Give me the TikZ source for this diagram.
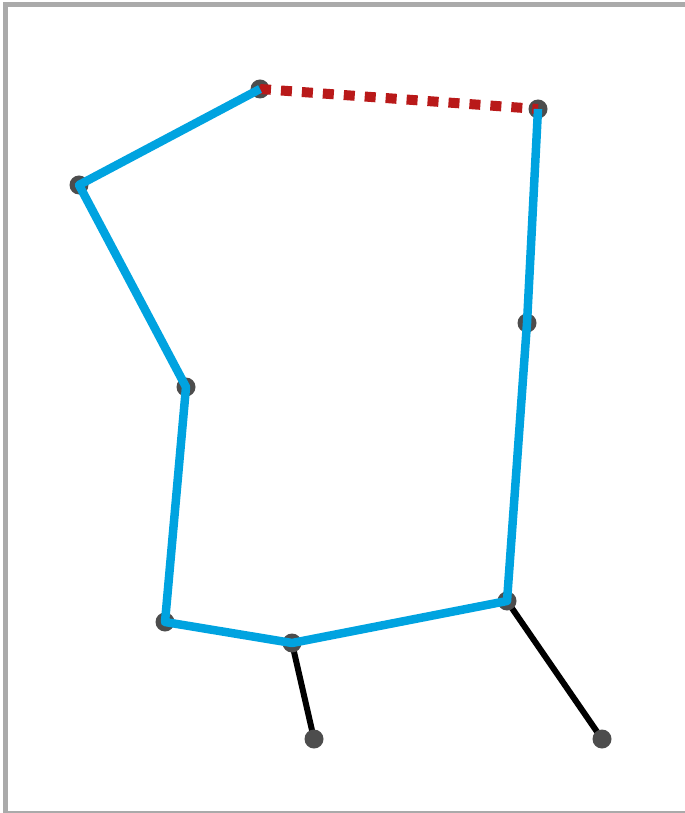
\documentclass[tikz,border=0pt]{standalone}
\usepackage{tikz}
\usetikzlibrary{positioning}
\definecolor{pathblue}{RGB}{0,163,224}
\definecolor{linkred}{RGB}{185,25,25}
\definecolor{dotgray}{RGB}{77,77,77}
\definecolor{framegray}{RGB}{170,170,170}
\tikzset{
    dot/.style = {circle, fill=dotgray, inner sep=0pt, minimum size=0.38cm},
    route/.style = {draw=pathblue, line width=0.17cm, line join=round},
    closing/.style = {draw=linkred, line width=0.2cm, dash pattern=on 0.22cm off 0.2cm},
    stub/.style = {draw=black, line width=0.12cm}
}
\begin{document}
\begin{tikzpicture}[x=0.02cm, y=-0.02cm]
    \useasboundingbox (0,0) rectangle (684,813);
    % Frame
    \draw[framegray, line width=0.1cm] (5.5,4.5) rectangle (690,813.5);

    % Points
    \coordinate (p1) at (260,89);
    \coordinate (p2) at (79,185);
    \coordinate (p3) at (186,387);
    \coordinate (p4) at (165,622);
    \coordinate (p5) at (292,643);
    \coordinate (p6) at (507,601);
    \coordinate (p7) at (527,323);
    \coordinate (p8) at (538,109);
    \coordinate (q1) at (314,739);
    \coordinate (q2) at (602,739);

    % Stubs go under the dots
    \draw [stub] (p5) -- (q1);
    \draw [stub] (p6) -- (q2);

    \foreach \p in {p1,p2,p3,p4,p5,p6,p7,p8,q1,q2}
        \node [dot] (d-\p) at (\p) {};

    % Route and closing link on top
    \draw [closing] (d-p1.center) -- (d-p8.center);
    \draw [route] (d-p1.center) -- (d-p2.center) -- (d-p3.center) -- (d-p4.center)
        -- (d-p5.center) -- (d-p6.center) -- (d-p7.center) -- (d-p8.center);
\end{tikzpicture}
\end{document}
